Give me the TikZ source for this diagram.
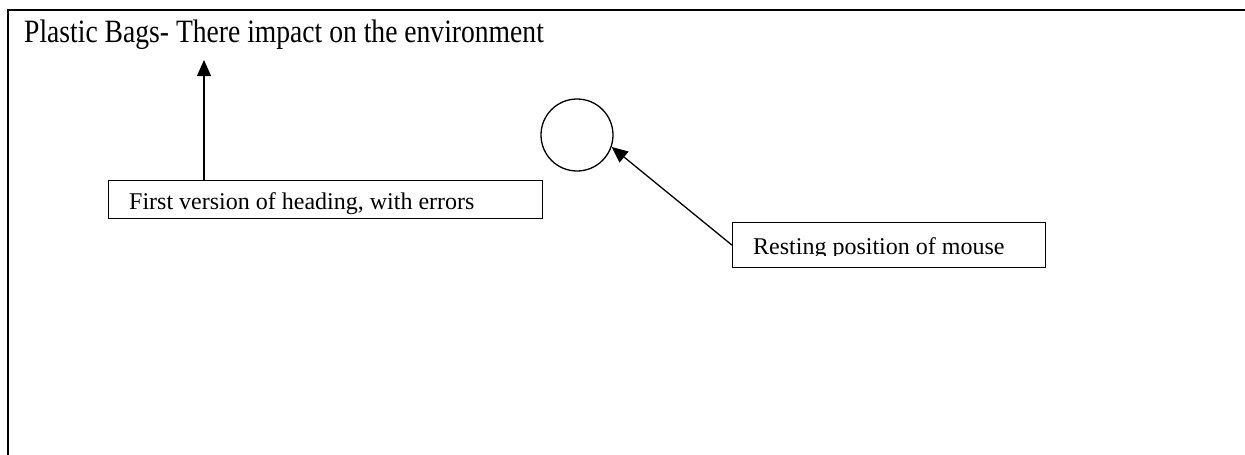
\documentclass[tikz,border=0pt]{standalone}
\usepackage{fontspec}
\setmainfont{Liberation Serif}
\usetikzlibrary{arrows.meta}
\begin{document}
\begin{tikzpicture}[x=1pt,y=-1pt,
  boxline/.style={draw,line width=1.3pt},
  labeltext/.style={anchor=base west,inner sep=0pt,font=\fontsize{24}{28}\selectfont},
  pointer/.style={line width=1.3pt,-{Triangle[length=16pt,width=14pt]}}]
\useasboundingbox (0,0) rectangle (1245,455);
% page frame
\draw[line width=2pt] (8,455) -- (8,10) -- (1245,10);
% heading, set slightly tall
\node[anchor=base west,inner sep=0pt,font=\fontsize{27.6}{32}\selectfont] (head) at (24,42)
  {\scalebox{1}[1.18]{Plastic Bags- There impact on the environment}};
\coordinate (headtip) at (204,60);
% first callout
\node[boxline,minimum width=434pt,minimum height=38pt,inner sep=0pt,anchor=north west] (b1) at (108,180) {};
\node[labeltext] (lab1) at (129,209) {First version of heading, with errors};
\coordinate (b1top) at (204,180);
\draw[pointer] (b1top) -- (headtip);
% mouse position
\node[circle,boxline,minimum size=72pt,inner sep=0pt] (mouse) at (577,135) {};
% second callout, text clipped at the bottom edge
\node[boxline,minimum width=313pt,minimum height=45pt,inner sep=0pt,anchor=north west] (b2) at (732,222) {};
\begin{scope}
\clip (732,222) rectangle (1045,255);
\node[labeltext] (lab2) at (753,254) {Resting position of mouse};
\end{scope}
\draw[pointer] (b2.west) -- (mouse.-19);
\end{tikzpicture}
\end{document}
